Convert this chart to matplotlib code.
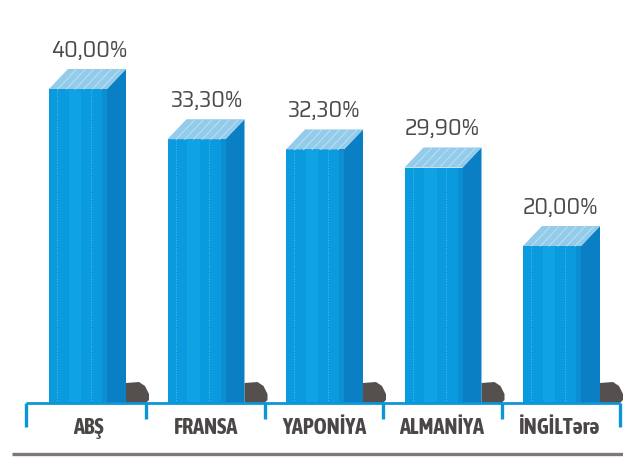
import logging
import matplotlib as mpl
import matplotlib.pyplot as plt
from matplotlib.patches import Polygon, Rectangle

logging.getLogger('matplotlib.font_manager').setLevel(logging.ERROR)
mpl.rcParams['font.family'] = ['DejaVu Sans']

# data
countries = ['ABŞ', 'FRANSA', 'YAPONİYA', 'ALMANİYA', 'İNGİLTərə']
# bar heights as drawn in the picture, the printed labels differ a little
values = [40.0, 33.6, 32.3, 30.0, 20.0]
value_labels = ['40,00%', '33,30%', '32,30%', '29,90%', '20,00%']

W, H = 623, 461
STEP = 118.5    # px per category
UNIT = 7.85     # px per percent
X0, Y0 = 78, 403

fig = plt.figure(figsize=(W / 100, H / 100), dpi=100)
ax = fig.add_axes([0, 0, 1, 1])
ax.set_xlim(-X0 / STEP, (W - X0) / STEP)
ax.set_ylim(-(H - Y0) / UNIT, Y0 / UNIT)
ax.axis('off')

bar_w = 58 / STEP
dx = 19 / STEP
dy = 20 / UNIT

front = '#0a9ade'
side = '#0a7fc4'
top = '#93cbea'

# bars
xs = list(range(len(values)))
ax.bar(xs, values, width=bar_w, color=front, linewidth=0, zorder=3)

for x, v, lab in zip(xs, values, value_labels):
    l = x - bar_w / 2
    r = x + bar_w / 2
    # shadow at the foot of the bar
    ax.add_patch(Polygon([(r + dx, 0), (r + dx, 20 / UNIT), (r + 32 / STEP, 21 / UNIT),
                          (r + 38 / STEP, 17 / UNIT), (r + 42 / STEP, 9 / UNIT), (r + 42 / STEP, 3 / UNIT),
                          (r + 39 / STEP, 0)],
                         closed=True, fc='#55504e', ec='none', zorder=2))
    # right side and top faces
    ax.add_patch(Polygon([(r, 0), (r + dx, 0), (r + dx, v + dy), (r, v)],
                         closed=True, fc=side, ec='none', zorder=3))
    ax.add_patch(Polygon([(l, v), (r, v), (r + dx, v + dy), (l + dx, v + dy)],
                         closed=True, fc=top, ec='none', zorder=3))
    # hatch lines on top
    for k in [0.15, 0.3, 0.45, 0.6, 0.75, 0.9]:
        tx = l + k * bar_w
        ax.plot([tx, tx + dx], [v, v + dy], color='#bfe0f3', lw=0.7, zorder=4)
    # stripes on the front
    ax.add_patch(Rectangle((l + 0.34 * bar_w, 0), 0.22 * bar_w, v, fc='#0fa3e4', ec='none', zorder=3))
    ax.add_patch(Rectangle((r - 0.08 * bar_w, 0), 0.08 * bar_w, v, fc='#0b8fd2', ec='none', zorder=3))
    ax.plot([l + 0.14 * bar_w] * 2, [0, v], color='#55bce8', lw=0.7, ls=':', zorder=4)
    ax.plot([l + 0.72 * bar_w] * 2, [0, v], color='#55bce8', lw=0.7, ls=':', zorder=4)
    ax.text(x + (11 - 0.7 * x) / STEP, v + dy + 12 / UNIT, lab, ha='center', va='baseline',
            family=['Saira SemiCondensed', 'DejaVu Sans'],
            fontsize=17, color='#4a4a4a', zorder=5)

# axis line and ticks
ax_col = '#0c96d8'
left = -52 / STEP
right = 542 / STEP
ax.plot([left, right], [0, 0], color=ax_col, lw=2, zorder=4, solid_capstyle='butt')
ax.plot([left, left], [0, -24 / UNIT], color=ax_col, lw=2.4, zorder=4, solid_capstyle='butt')
ax.plot([right, right], [0, -24 / UNIT], color=ax_col, lw=2.4, zorder=4, solid_capstyle='butt')
for x in xs[:-1]:
    tx = x + 0.575
    ax.plot([tx, tx], [0, -16 / UNIT], color=ax_col, lw=2.4, zorder=4, solid_capstyle='butt')

# category labels
for x, name in zip(xs, countries):
    ax.text(x + (10 - 0.6 * x) / STEP, -25 / UNIT, name, ha='center', va='center',
            family=['Asap Condensed', 'Liberation Sans', 'DejaVu Sans'],
            fontsize=16, fontweight='bold', color='#4b4746')

# grey line at the bottom
ax.plot([-66 / STEP, (W - X0) / STEP], [-51 / UNIT, -51 / UNIT], color='#7d7875', lw=2.4, solid_capstyle='butt')

plt.savefig('out.png', dpi=100)
